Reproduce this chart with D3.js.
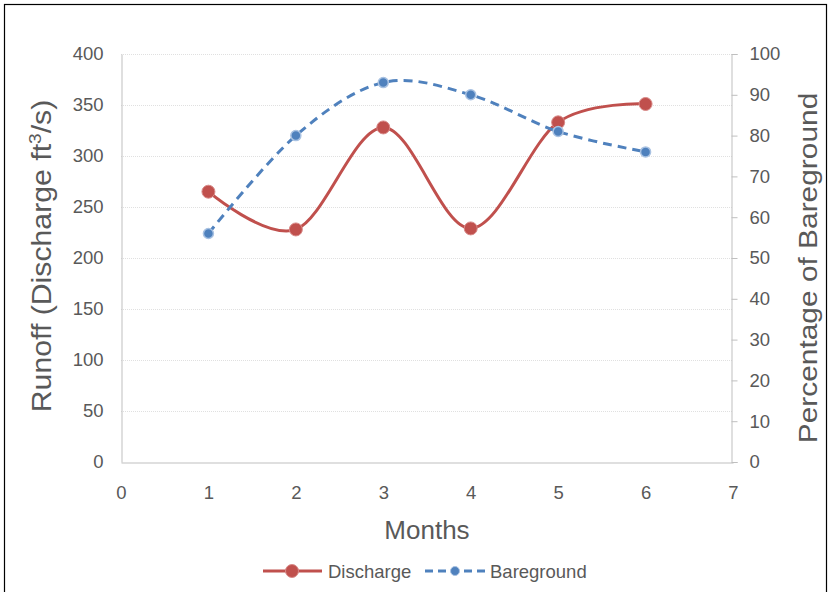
<!DOCTYPE html>
<html>
<head>
<meta charset="utf-8">
<script src="https://cdn.jsdelivr.net/npm/d3@7/dist/d3.min.js"></script>
<style>
  html, body { margin: 0; padding: 0; background: #fff; }
  svg { display: block; }
  text { font-family: "Liberation Sans", Arial, sans-serif; fill: #595959; }
</style>
</head>
<body>
<svg id="chart" width="832" height="592"></svg>
<script>
// Monthly runoff and bare-ground coverage
const months = [1, 2, 3, 4, 5, 6];
const discharge = [265, 228, 328, 229, 333, 351];
const bareground = [56, 80, 93, 90, 81, 76];
const xTicks = [0, 1, 2, 3, 4, 5, 6, 7];
const leftTicks = [0, 50, 100, 150, 200, 250, 300, 350, 400];
const rightTicks = [0, 10, 20, 30, 40, 50, 60, 70, 80, 90, 100];
const seriesNames = ["Discharge", "Bareground"];

const svg = d3.select("#chart");
const plot = { left: 121, right: 733, top: 54, bottom: 462 };

const red = "#c0504d", blue = "#4f81bd";
const tickFont = "18.5px";

// outer frame
svg.append("rect")
  .attr("x", 4.5).attr("y", 4.5)
  .attr("width", 822).attr("height", 600)
  .attr("fill", "none").attr("stroke", "#000").attr("stroke-width", 1.2);

const x = d3.scaleLinear().domain([0, 7]).range([plot.left, plot.right]);
const yL = d3.scaleLinear().domain([0, 400]).range([plot.bottom, plot.top]);
const yR = d3.scaleLinear().domain([0, 100]).range([plot.bottom, plot.top]);

// horizontal gridlines
svg.append("g").selectAll("line")
  .data(leftTicks.filter(d => d > 0))
  .join("line")
  .attr("x1", plot.left).attr("x2", plot.right)
  .attr("y1", d => Math.round(yL(d)) + 0.5).attr("y2", d => Math.round(yL(d)) + 0.5)
  .attr("stroke", "#e0e0e0").attr("stroke-width", 1)
  .attr("stroke-dasharray", "1,1");

function styleTicks(g) {
  g.selectAll("text").style("font-size", tickFont).attr("fill", "#595959")
    .style("font-family", "'Liberation Sans', Arial, sans-serif");
}

// left axis
const gL = svg.append("g").attr("transform", `translate(${plot.left + 0.5},0)`)
  .call(d3.axisLeft(yL).tickValues(leftTicks).tickFormat(d3.format("d")).tickSize(0).tickPadding(18));
gL.select(".domain").attr("stroke", "#bfbfbf");
styleTicks(gL);

// right axis with outer ticks
const gR = svg.append("g").attr("transform", `translate(${plot.right - 1.5},0)`)
  .call(d3.axisRight(yR).tickValues(rightTicks).tickFormat(d3.format("d")).tickSize(6).tickPadding(12));
gR.select(".domain").attr("stroke", "#bfbfbf");
gR.selectAll(".tick line").attr("stroke", "#bfbfbf");
styleTicks(gR);

// bottom axis
const gB = svg.append("g").attr("transform", `translate(0,${plot.bottom + 0.5})`)
  .call(d3.axisBottom(x).tickValues(xTicks).tickFormat(d3.format("d")).tickSize(0).tickPadding(23));
gB.select(".domain").attr("stroke", "#bfbfbf");
styleTicks(gB);

// axis titles
svg.append("text")
  .attr("x", (plot.left + plot.right) / 2).attr("y", 539)
  .attr("text-anchor", "middle")
  .style("font-size", "26px")
  .text("Months");

const leftTitle = svg.append("text")
  .attr("transform", `translate(51,256) rotate(-90) scale(1.12,1)`)
  .attr("text-anchor", "middle")
  .style("font-size", "27px");
leftTitle.append("tspan").text("Runoff (Discharge ft");
leftTitle.append("tspan").attr("dy", -10).style("font-size", "17px").text("3");
leftTitle.append("tspan").attr("dy", 10).text("/s)");

svg.append("text")
  .attr("transform", `translate(817,268) rotate(-90) scale(1.15,1)`)
  .attr("text-anchor", "middle")
  .style("font-size", "26px")
  .text("Percentage of Bareground");

// series lines
const curve = d3.curveCardinal.tension(0);
const dLine = d3.line().x((d, i) => x(months[i])).y(d => yL(d)).curve(curve);
const bLine = d3.line().x((d, i) => x(months[i])).y(d => yR(d)).curve(curve);

svg.append("path").datum(discharge)
  .attr("d", dLine).attr("fill", "none")
  .attr("stroke", red).attr("stroke-width", 3);

svg.append("path").datum(bareground)
  .attr("d", bLine).attr("fill", "none")
  .attr("stroke", blue).attr("stroke-width", 3)
  .attr("stroke-dasharray", "9,6");

// markers
svg.append("g").selectAll("circle").data(discharge).join("circle")
  .attr("cx", (d, i) => x(months[i])).attr("cy", d => yL(d))
  .attr("r", 6.5).attr("fill", red)
  .attr("stroke", "#d88a88").attr("stroke-width", 1);

svg.append("g").selectAll("circle").data(bareground).join("circle")
  .attr("cx", (d, i) => x(months[i])).attr("cy", d => yR(d))
  .attr("r", 5).attr("fill", blue)
  .attr("stroke", "#a9c2e2").attr("stroke-width", 1.5);

// legend
const lg = svg.append("g").attr("transform", "translate(0,571)");
lg.append("line").attr("x1", 263).attr("x2", 322).attr("y1", 0).attr("y2", 0)
  .attr("stroke", red).attr("stroke-width", 3);
lg.append("circle").attr("cx", 292).attr("cy", 0).attr("r", 6.5)
  .attr("fill", red).attr("stroke", "#d88a88");
lg.append("text").attr("x", 328).attr("y", 7).style("font-size", tickFont).text(seriesNames[0]);

lg.append("line").attr("x1", 425).attr("x2", 485).attr("y1", 0).attr("y2", 0)
  .attr("stroke", blue).attr("stroke-width", 3).attr("stroke-dasharray", "8,5");
lg.append("circle").attr("cx", 455).attr("cy", 0).attr("r", 4.5)
  .attr("fill", blue).attr("stroke", "#a9c2e2");
lg.append("text").attr("x", 490).attr("y", 7).style("font-size", tickFont).text(seriesNames[1]);
</script>
</body>
</html>
